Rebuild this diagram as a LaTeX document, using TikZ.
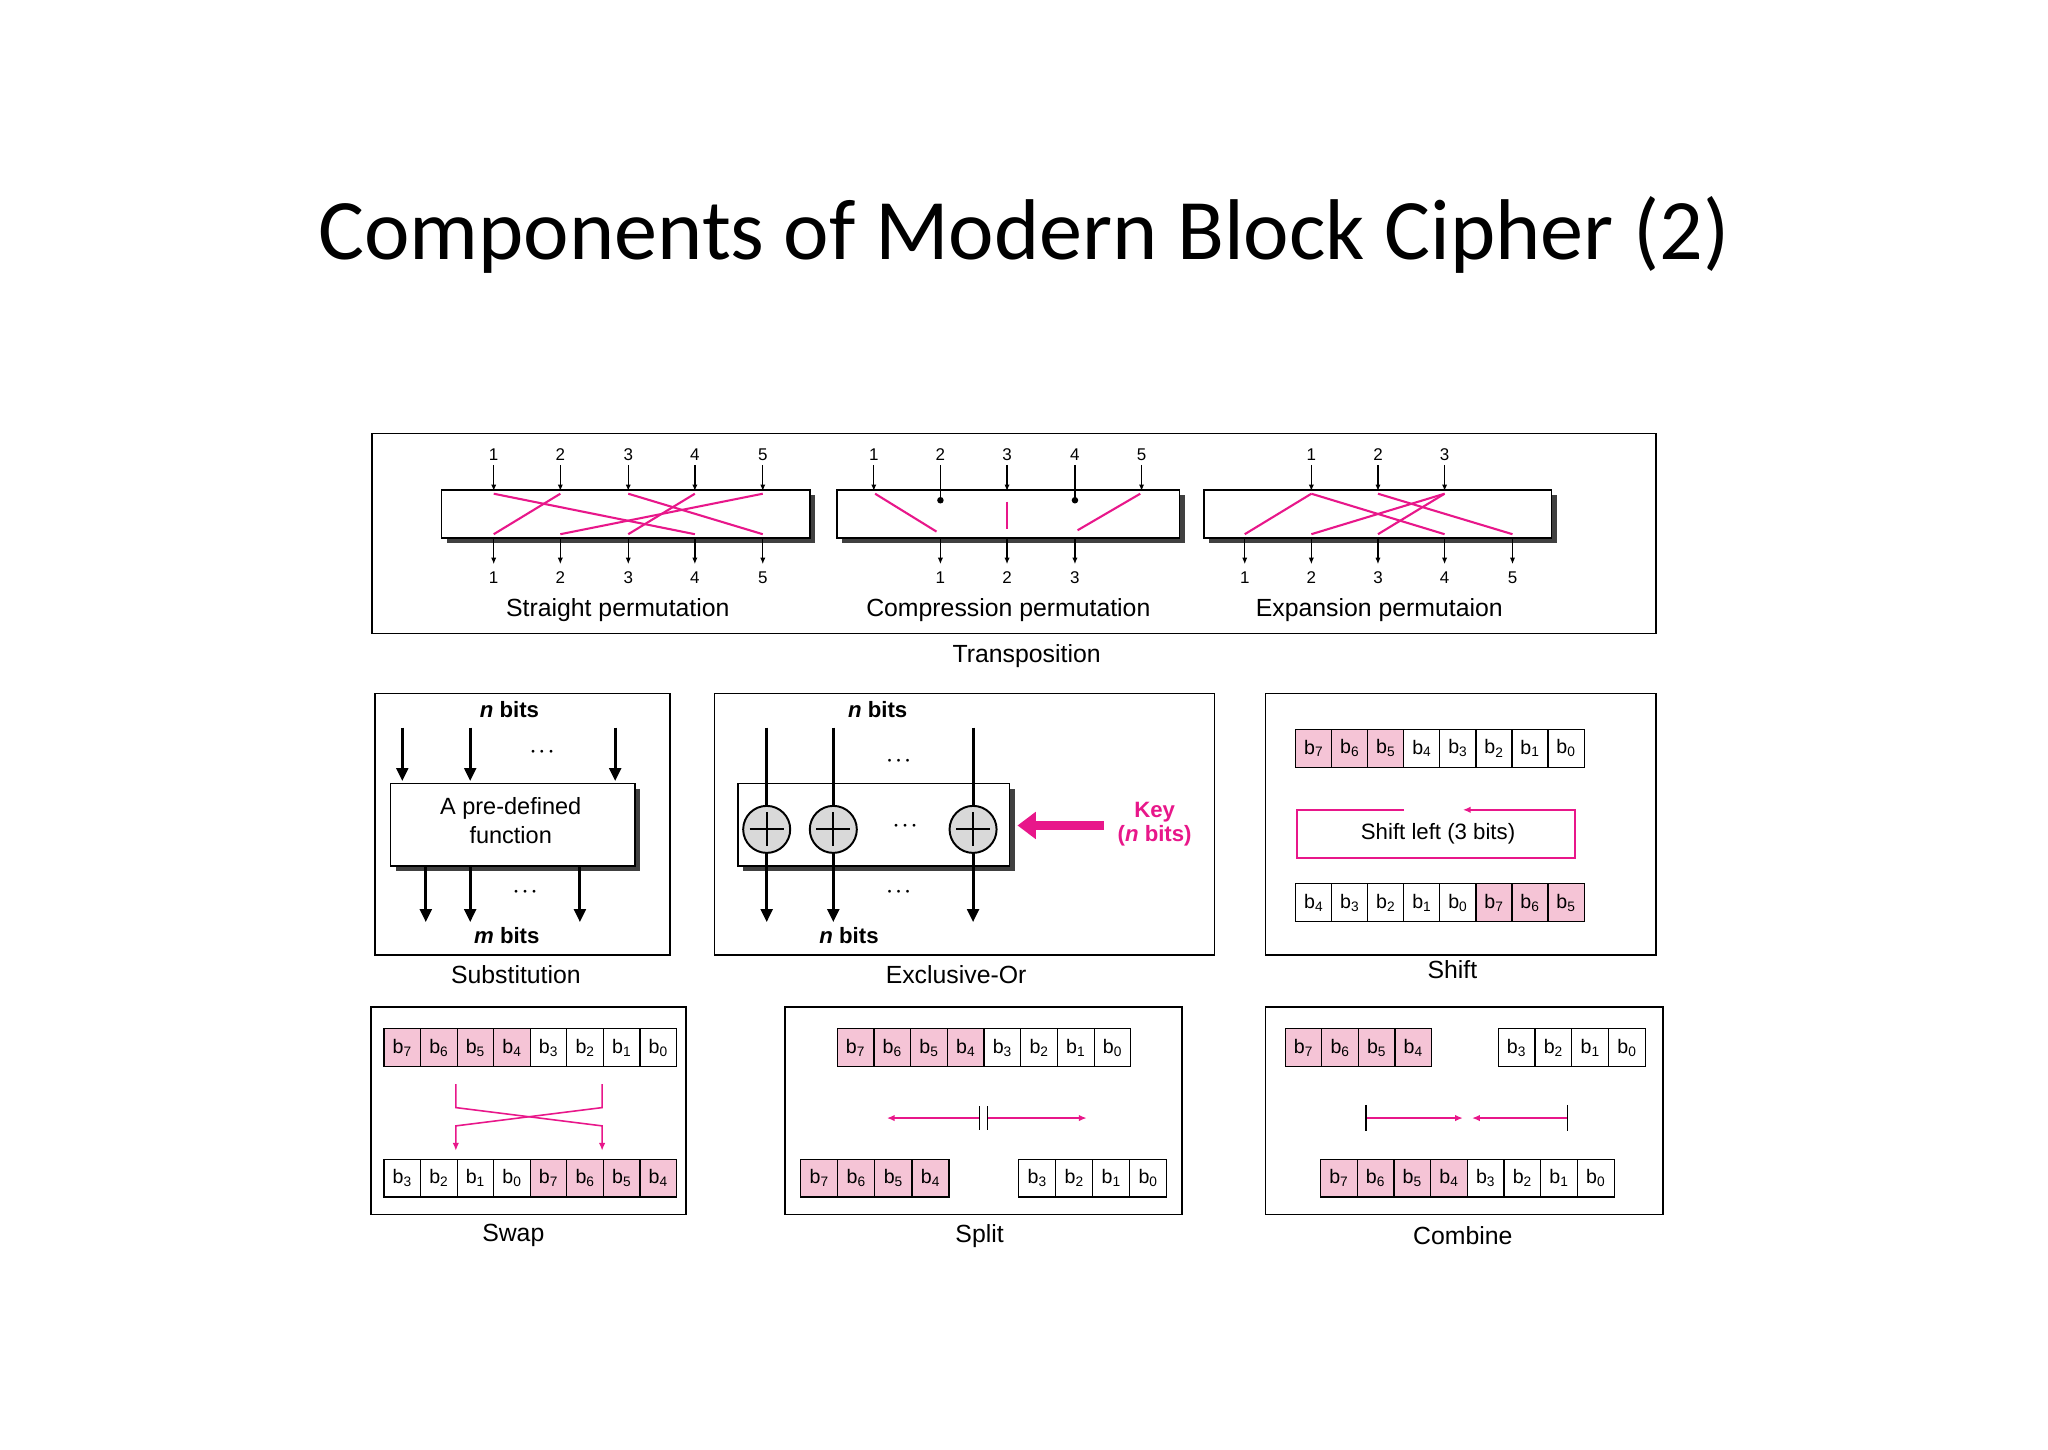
\documentclass[tikz,border=0pt]{standalone}
\usepackage{fontspec}
\setmainfont{Liberation Sans}
\newfontfamily\titlefont{Carlito}
\usetikzlibrary{arrows.meta}
\definecolor{mag}{HTML}{E8178A}
\definecolor{pk}{HTML}{F5C4D6}
\newcommand\shbox[4]{\fill[black!75] (#1+4,#2+4) rectangle (#3+4,#4+4); \draw[sbox] (#1,#2) rectangle (#3,#4);}
\newcommand\bitrow[4]{\foreach[count=\k from 0] \l/\c in {#4} {\node[bit,fill=\c,minimum width=#3pt] at (#1+\k*#3+#3/2,#2) {b\textsubscript{\l}};}}
\begin{document}
\begin{tikzpicture}[x=1pt,y=-1pt,
 sbox/.style={draw,fill=white,line width=1.2pt},
 frame/.style={draw,line width=1.2pt},
 arr/.style={-{Latex[length=5pt,width=4pt]},line width=1pt},
 barr/.style={-{Triangle[length=10pt,width=9pt]},line width=2.2pt},
 mg/.style={draw=mag,line width=1.6pt},
 marr/.style={mag,line width=1.2pt,-{Latex[length=6pt,width=5pt]}},
 num/.style={font=\fontsize{13}{14}\selectfont,inner sep=0},
 lab/.style={font=\fontsize{19}{21}\selectfont,inner sep=0},
 bit/.style={draw,line width=0.9pt,minimum height=29pt,inner sep=0,font=\fontsize{15}{16}\selectfont},
 xo/.style={circle,draw,line width=1.5pt,fill=black!15,minimum size=36pt,inner sep=0}]
\useasboundingbox (0,0) rectangle (1568,1110);
\node[font=\titlefont\fontsize{66}{72}\selectfont] (title) at (784,180) {Components of Modern Block Cipher (2)};
% ---------- Transposition
\draw[frame] (285,332) rectangle (1268,485);
\node[lab] (tr) at (786,502) {Transposition};
\shbox{338}{375}{620}{412}
\shbox{641}{375}{903}{412}
\shbox{922}{375}{1188}{412}
% straight
\foreach \x [count=\i] in {378,429,481,532,584}{
 \node[num] at (\x,348) {\i}; \draw[arr] (\x,356)--(\x,376);
 \draw[arr] (\x,412)--(\x,432); \node[num] at (\x,442) {\i};}
\foreach \a/\b in {378/532,429/378,481/584,532/481,584/429}
 \draw[mg] (\a,378)--(\b,409);
\node[lab] at (473,467) {Straight permutation};
% compression
\foreach \x [count=\i] in {669,720,771,823,874}{
 \node[num] at (\x,348) {\i};}
\foreach \x in {669,771,874} \draw[arr] (\x,356)--(\x,376);
\foreach \x in {720,823} {\draw[line width=1pt] (\x,356)--(\x,383); \fill (\x,383) circle (2.5);}
\foreach \x [count=\i] in {720,771,823}{\draw[arr] (\x,412)--(\x,432); \node[num] at (\x,442) {\i};}
\draw[mg] (670,378)--(717,407);
\draw[mg] (771,384)--(771,405);
\draw[mg] (873,378)--(825,406);
\node[lab] at (772,467) {Compression permutation};
% expansion
\foreach \x [count=\i] in {1004,1055,1106}{
 \node[num] at (\x,348) {\i}; \draw[arr] (\x,356)--(\x,376);}
\foreach \x [count=\i] in {953,1004,1055,1106,1158}{\draw[arr] (\x,412)--(\x,432); \node[num] at (\x,442) {\i};}
\foreach \a/\b in {1004/953,1004/1106,1055/1158,1106/1004,1106/1055}
 \draw[mg] (\a,378)--(\b,409);
\node[lab] at (1056,467) {Expansion permutaion};
% ---------- Substitution
\draw[frame] (287,531) rectangle (513,731);
\node[lab] (sub) at (395,746) {Substitution};
\node[lab,font=\fontsize{17}{19}\selectfont\bfseries] at (390,543) {\textit{n} bits};
\foreach \x in {308,360,471} \draw[barr] (\x,557)--(\x,598);
\node[font=\fontsize{22}{22}\selectfont\bfseries] at (415,576) {$\cdot\!\cdot\!\cdot$};
\shbox{299}{600}{486}{663}
\node[lab,align=center,font=\fontsize{18}{22}\selectfont] (fn) at (391,628) {A pre-defined\\function};
\foreach \x in {326,360,444} \draw[barr] (\x,664)--(\x,706);
\node[font=\fontsize{22}{22}\selectfont\bfseries] at (402,683) {$\cdot\!\cdot\!\cdot$};
\node[lab,font=\fontsize{17}{19}\selectfont\bfseries] at (388,716) {\textit{m} bits};
% ---------- XOR
\draw[frame] (547,531) rectangle (930,731);
\node[lab] (xor) at (732,746) {Exclusive-Or};
\node[lab,font=\fontsize{17}{19}\selectfont\bfseries] at (672,543) {\textit{n} bits};
\shbox{565}{600}{773}{663}
\foreach \x in {587,638,745}{
 \draw[barr] (\x,557)--(\x,706);
 \node[xo] at (\x,635) {};
 \draw[line width=1.5pt] (\x-13,635)--(\x+13,635) (\x,622)--(\x,648);}
\foreach \y/\x in {585/688,635/693,685/688}
 \node[font=\fontsize{22}{22}\selectfont\bfseries] at (\x,\y-2) {$\cdot\!\cdot\!\cdot$};
\node[lab,font=\fontsize{17}{19}\selectfont\bfseries] at (650,716) {\textit{n} bits};
\draw[mag,line width=7pt,-{Triangle[length=14pt,width=20pt]}] (845,632)--(779,632);
\node[mag,font=\fontsize{17}{18}\selectfont\bfseries\rmfamily,align=center,inner sep=0] (key) at (884,631) {Key\\(\textit{n} bits)};
% ---------- Shift
\draw[frame] (969,531) rectangle (1268,731);
\node[lab] (shift) at (1112,742) {Shift};
\bitrow{992}{573}{27.6}{7/pk,6/pk,5/pk,4/white,3/white,2/white,1/white,0/white}
\draw[mag,line width=1.3pt] (1075,620)--(993,620)--(993,657)--(1206,657)--(1206,620)--(1135,620);
\draw[marr] (1136,620)--(1120,620);
\node[lab,font=\fontsize{17}{19}\selectfont] at (1101,638) {Shift left (3 bits)};
\bitrow{992}{691}{27.6}{4/white,3/white,2/white,1/white,0/white,7/pk,6/pk,5/pk}
% ---------- Swap
\draw[frame] (284,771) rectangle (525,930);
\node[lab] (swap) at (393,946) {Swap};
\bitrow{294}{802}{28}{7/pk,6/pk,5/pk,4/pk,3/white,2/white,1/white,0/white}
\bitrow{294}{902}{28}{3/white,2/white,1/white,0/white,7/pk,6/pk,5/pk,4/pk}
\draw[marr] (349,830)--(349,848)--(461,862)--(461,881);
\draw[marr] (461,830)--(461,848)--(349,862)--(349,881);
% ---------- Split
\draw[frame] (601,771) rectangle (905,930);
\node[lab] (split) at (750,946) {Split};
\bitrow{641}{802}{28.1}{7/pk,6/pk,5/pk,4/pk,3/white,2/white,1/white,0/white}
\bitrow{613}{902}{28.4}{7/pk,6/pk,5/pk,4/pk}
\bitrow{780}{902}{28.3}{3/white,2/white,1/white,0/white}
\draw[marr] (750,856)--(679,856);
\draw[marr] (756,856)--(832,856);
\draw[line width=1pt] (750,847)--(750,865) (756,847)--(756,865);
% ---------- Combine
\draw[frame] (969,771) rectangle (1273,930);
\node[lab] (comb) at (1120,946) {Combine};
\bitrow{984}{802}{28}{7/pk,6/pk,5/pk,4/pk}
\bitrow{1147}{802}{28.2}{3/white,2/white,1/white,0/white}
\bitrow{1011}{902}{28.1}{7/pk,6/pk,5/pk,4/pk,3/white,2/white,1/white,0/white}
\draw[marr] (1046,856)--(1120,856);
\draw[marr] (1200,856)--(1127,856);
\draw[line width=1.2pt] (1046,846)--(1046,866) (1200,846)--(1200,866);
\end{tikzpicture}
\end{document}
